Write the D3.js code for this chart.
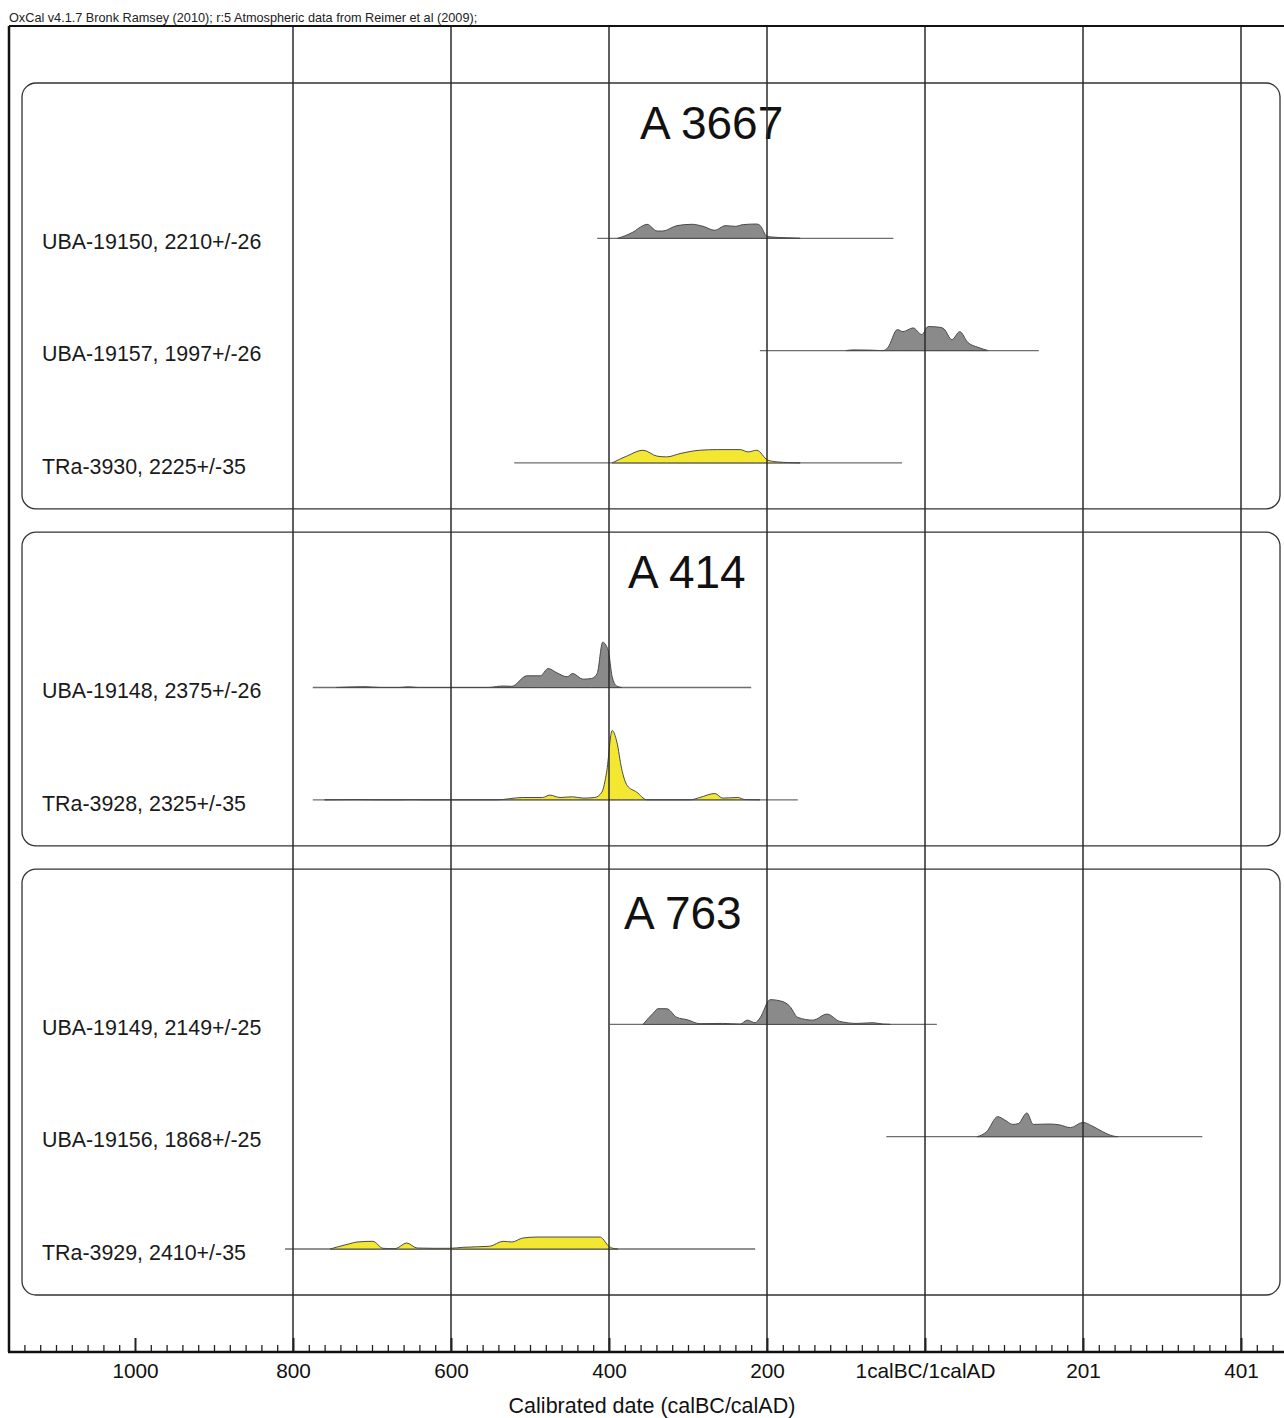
<!DOCTYPE html>
<html>
<head>
<meta charset="utf-8">
<script src="https://cdn.jsdelivr.net/npm/d3@7"></script>
<style>
  body { margin: 0; background: #fff; }
  svg { display: block; font-family: "Liberation Sans", Arial, sans-serif; }
</style>
</head>
<body>
<svg></svg>
<script>
const width = 1284;
const height = 1418;

const header = "OxCal v4.1.7 Bronk Ramsey (2010); r:5 Atmospheric data from Reimer et al (2009);";
const axisTitle = "Calibrated date (calBC/calAD)";

// axis in years, BC negative, 0 = 1calBC/1calAD boundary
const majorTicks = [-1000, -800, -600, -400, -200, 0, 200, 400];
const tickLabels = ["1000", "800", "600", "400", "200", "1calBC/1calAD", "201", "401"];

const groups = ["A 3667", "A 414", "A 763"];
const groupRow = [0, 4, 7];

const samples = [
  "UBA-19150, 2210+/-26",
  "UBA-19157, 1997+/-26",
  "TRa-3930, 2225+/-35",
  "UBA-19148, 2375+/-26",
  "TRa-3928, 2325+/-35",
  "UBA-19149, 2149+/-25",
  "UBA-19156, 1868+/-25",
  "TRa-3929, 2410+/-35"
];
const sampleRow = [1, 2, 3, 5, 6, 8, 9, 10];

// extent of the thin line under each distribution
const ranges = [[-415, -40], [-209, 144], [-520, -29], [-775, -220], [-775, -161], [-399, 15], [-49, 351], [-810, -215]];

// relative probability (peak of TRa-3928 ~ 100)
const probUBA19150 = [[-389, 0], [-370, 8.6], [-357, 18.1], [-352, 20], [-339, 10.4], [-332, 10.4], [-314, 18.1], [-295, 20], [-281, 17.1], [-266, 11.4], [-253, 18.1], [-240, 17.1], [-230, 19.6], [-213, 20.4], [-209, 18.6], [-200, 2.9], [-194, 1.9], [-175, 0.7], [-158, 0]];
const probUBA19157 = [[-100, 0], [-91, 1], [-70, 0.7], [-53, 0], [-47, 4.3], [-35, 30], [-28, 27.1], [-15, 32.4], [-4, 22.9], [4, 34.3], [19, 33.3], [24, 31], [34, 15.7], [44, 27.1], [54, 11.9], [67, 4.7], [80, 0]];
const probTRa3930 = [[-396, 0], [-377, 10], [-357, 18.1], [-339, 9.6], [-327, 8.6], [-310, 13.3], [-285, 18.1], [-263, 19], [-234, 19], [-224, 15.7], [-213, 18.1], [-199, 3.9], [-187, 1.4], [-171, 0.4], [-158, 0]];
const probUBA19148 = [[-745, 0], [-709, 1.1], [-690, 0], [-665, 0], [-654, 0.9], [-642, 0], [-551, 0], [-542, 1.4], [-534, 2.1], [-523, 1.7], [-504, 16.7], [-487, 16.7], [-477, 27.1], [-466, 21], [-453, 15.3], [-446, 20], [-433, 11.9], [-422, 12.9], [-415, 20], [-408, 64.7], [-401, 52.9], [-396, 15.3], [-390, 1.9], [-384, 0]];
const probTRa3928 = [[-760, 0], [-720, 0.4], [-690, 0], [-665, 0], [-650, 0.3], [-635, 0], [-542, 0], [-509, 3.3], [-484, 3.3], [-475, 6.7], [-462, 3.3], [-446, 4.3], [-433, 2.4], [-418, 3.3], [-409, 11], [-403, 39.6], [-396, 99], [-390, 82.4], [-384, 44.3], [-377, 20.4], [-365, 11], [-352, 0], [-297, 0], [-285, 3.3], [-266, 9], [-256, 2.4], [-237, 3.3], [-228, 0.4], [-209, 0]];
const probUBA19149 = [[-357, 0], [-344, 16.1], [-338, 22.4], [-327, 22.4], [-314, 10], [-301, 6.7], [-285, 1], [-256, 1.4], [-234, 0.4], [-225, 6.1], [-215, 2.4], [-209, 9], [-196, 35.3], [-181, 32.9], [-171, 25.7], [-161, 10], [-142, 6.1], [-124, 14.7], [-108, 4.3], [-86, 1.4], [-66, 2.4], [-53, 0.4], [-44, 0]];
const probUBA19156 = [[66, 0], [78, 7.1], [92, 28.6], [101, 23.9], [111, 17.6], [118, 18.6], [129, 33.9], [137, 17.6], [158, 18.1], [171, 16.7], [184, 12.9], [200, 20.4], [211, 15.7], [225, 7.1], [238, 1], [244, 0]];
const probTRa3929 = [[-753, 0], [-744, 2.9], [-728, 7.6], [-719, 10], [-699, 11], [-686, 1], [-671, 0.4], [-656, 8.6], [-643, 1.4], [-623, 1], [-601, 1], [-585, 2.4], [-551, 3.9], [-534, 11], [-523, 10], [-509, 15.7], [-491, 17.1], [-449, 17.1], [-411, 17.1], [-408, 14.7], [-401, 4.7], [-395, 1], [-389, 0]];

const probs = [probUBA19150, probUBA19157, probTRa3930, probUBA19148, probTRa3928, probUBA19149, probUBA19156, probTRa3929];

// layout
const frameLeft = 9, frameTop = 26, axisY = 1352;
const boxLeft = 22, boxRight = 1280;
const titleX = [640, 628, 624];
const titleShift = [-7, -7, -3];

let svg = d3.select("svg")
    .attr("width", width)
    .attr("height", height);

let x = d3.scaleLinear()
    .domain([-1000, 400])
    .range([135, 1241]);

let rowY = d3.scaleLinear()
    .domain([0, 10])
    .range([129, 1252]);

let h = d3.scaleLinear()
    .domain([0, 100])
    .range([0, 70]);

// header
svg.append("text")
    .attr("x", frameLeft)
    .attr("y", 22)
    .style("font-size", "12.7px")
    .attr("fill", "#222")
    .text(header);

// group boxes
let lastRow = groupRow.map((r, i) => d3.max(sampleRow.filter(s => d3.bisectRight(groupRow, s) - 1 === i)));

groups.forEach((g, i) => {
    let top = rowY(groupRow[i]) - 46;
    let bottom = rowY(lastRow[i]) + 43;
    svg.append("rect")
        .attr("x", boxLeft)
        .attr("y", top)
        .attr("width", boxRight - boxLeft)
        .attr("height", bottom - top)
        .attr("rx", 14)
        .attr("fill", "none")
        .attr("stroke", "#333")
        .attr("stroke-width", 1.3);
    svg.append("text")
        .attr("x", titleX[i])
        .attr("y", rowY(groupRow[i]) + titleShift[i])
        .attr("dy", "0.36em")
        .style("font-size", "46px")
        .attr("fill", "#111")
        .text(g);
});

// distributions
let area = d3.area()
    .x(d => x(d[0]))
    .curve(d3.curveMonotoneX);

samples.forEach((s, i) => {
    let base = rowY(sampleRow[i]) - 3;
    let yellow = s.startsWith("TRa");
    svg.append("line")
        .attr("x1", x(ranges[i][0]))
        .attr("x2", x(ranges[i][1]))
        .attr("y1", base)
        .attr("y2", base)
        .attr("stroke", "#6e6e6e")
        .attr("stroke-width", 1.3);
    svg.append("path")
        .datum(probs[i])
        .attr("d", area.y0(base).y1(d => base - h(d[1])))
        .attr("fill", yellow ? "#f4e731" : "#8a8a8a")
        .attr("stroke", "#4a4a4a")
        .attr("stroke-width", 1);
    svg.append("text")
        .attr("x", 42)
        .attr("y", rowY(sampleRow[i]))
        .attr("dy", "0.36em")
        .style("font-size", "21.4px")
        .attr("fill", "#1a1a1a")
        .text(s);
});

// vertical grid
svg.selectAll(".grid")
    .data(majorTicks.filter(t => t > -1000))
    .enter()
    .append("line")
    .classed("grid", true)
    .attr("x1", d => x(d))
    .attr("x2", d => x(d))
    .attr("y1", frameTop)
    .attr("y2", axisY)
    .attr("stroke", "#2a2a2a")
    .attr("stroke-width", 1.5);

// frame
svg.append("line")
    .attr("x1", frameLeft).attr("x2", width)
    .attr("y1", frameTop).attr("y2", frameTop)
    .attr("stroke", "#111").attr("stroke-width", 2);
svg.append("line")
    .attr("x1", frameLeft).attr("x2", frameLeft)
    .attr("y1", frameTop).attr("y2", axisY)
    .attr("stroke", "#111").attr("stroke-width", 2.5);

// axis
let minor = d3.range(-1140, 460, 20).filter(t => !majorTicks.includes(t));
svg.append("g")
    .attr("transform", `translate(0, ${axisY})`)
    .call(d3.axisBottom(x).tickValues(minor).tickSize(-7).tickFormat(""))
    .call(g => g.select(".domain").remove())
    .selectAll("line").attr("stroke", "#222").attr("stroke-width", 1.3);

let axisG = svg.append("g")
    .attr("transform", `translate(0, ${axisY})`)
    .call(d3.axisBottom(x)
        .tickValues(majorTicks)
        .tickSize(-14)
        .tickPadding(11)
        .tickFormat((d, i) => tickLabels[i]));
axisG.select(".domain").remove();
axisG.selectAll("line").attr("stroke", "#222").attr("stroke-width", 2);
axisG.selectAll("text")
    .style("font-size", "20.8px")
    .style("font-family", "'Liberation Sans', Arial, sans-serif")
    .attr("fill", "#111");

svg.append("line")
    .attr("x1", frameLeft - 1).attr("x2", width)
    .attr("y1", axisY).attr("y2", axisY)
    .attr("stroke", "#111").attr("stroke-width", 2.5);

svg.append("text")
    .attr("x", 652)
    .attr("y", 1413)
    .style("text-anchor", "middle")
    .style("font-size", "21.5px")
    .attr("fill", "#111")
    .text(axisTitle);
</script>
</body>
</html>
